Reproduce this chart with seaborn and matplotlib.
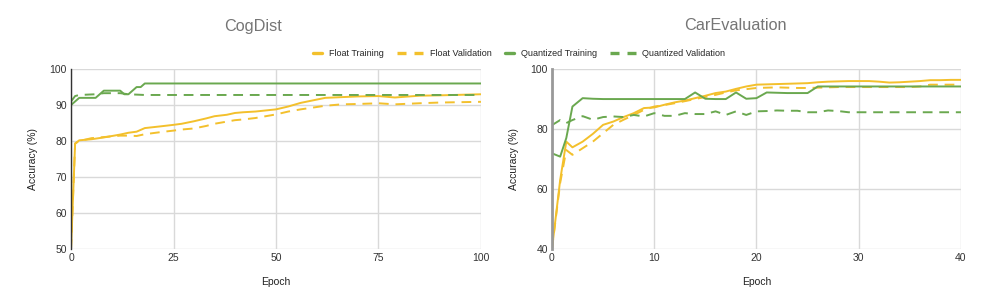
import pandas as pd
import seaborn as sns
import matplotlib
matplotlib.use("Agg")
import matplotlib.pyplot as plt
from matplotlib.lines import Line2D

# ---------------------------------------------- CogDist
cog_epoch = [0, 1, 2, 5, 8, 10, 12, 14, 16, 18, 22, 25, 27, 30, 33, 35, 38, 40, 42, 45,
             50, 53, 56, 59, 62, 66, 70, 75, 79, 85, 90, 100]
cog_float_train = [50, 79.3, 80.2, 80.5, 81.0, 81.4, 81.8, 82.3, 82.6, 83.6, 84.1, 84.5, 84.8, 85.5,
                   86.3, 86.9, 87.3, 87.8, 88.0, 88.2, 88.8, 89.6, 90.6, 91.3, 92.0, 92.2, 92.4,
                   92.5, 92.1, 92.6, 92.7, 93.0]
cog_float_val = [50, 79.3, 80.0, 80.8, 81.1, 81.3, 81.5, 81.5, 81.4, 81.9, 82.5, 82.9, 83.2, 83.5,
                 84.2, 84.8, 85.4, 85.8, 86.0, 86.4, 87.4, 88.2, 88.8, 89.3, 89.8, 90.2, 90.3,
                 90.5, 90.2, 90.5, 90.7, 90.9]

cog_q_epoch = [0, 2, 6, 8, 12, 13, 14, 16, 17, 18, 100]
cog_q_train = [90, 92, 92, 94, 94, 93, 93, 95, 95, 96, 96]
cog_qv_epoch = [0, 1, 2, 6, 8, 12, 14, 18, 100]
cog_q_val = [91, 92.5, 92.8, 93, 93.3, 93.3, 93, 92.8, 92.8]

# ---------------------------------------------- CarEvaluation
car_epoch = [0, 0.8, 1.4] + list(range(2, 41))
car_float_train = [40, 63.0, 75.8, 73.9, 75.8, 78.4, 81.4, 82.5, 84.0, 85.3, 87.0, 87.2, 88.1, 88.9,
                   89.5, 90.3, 91.1, 92.0, 92.5, 93.4, 94.2, 94.8, 94.9, 95.0, 95.1, 95.2, 95.3,
                   95.6, 95.8, 95.9, 96.0, 96.0, 96.0, 95.8, 95.5, 95.6, 95.8, 96.0, 96.3, 96.3,
                   96.4, 96.4]
car_float_val = [40, 62.0, 73.0, 71.4, 73.6, 75.8, 78.6, 81.4, 83.1, 84.7, 86.4, 87.5, 88.0, 88.6,
                 89.3, 90.0, 90.7, 91.4, 92.2, 92.9, 93.3, 93.7, 93.8, 93.9, 93.8, 93.7, 93.7,
                 93.8, 93.9, 94.0, 94.0, 94.0, 94.0, 94.0, 94.0, 94.0, 94.0, 94.2, 94.8, 94.8,
                 94.8, 94.8]
car_q_train = [71.9, 70.8, 77.0, 87.5, 90.3, 90.1, 90.0, 90.0, 90.0, 90.0, 90.0, 90.0, 90.0, 90.0,
               90.0, 92.2, 90.1, 90.0, 90.0, 92.2, 90.1, 90.3, 92.2, 92.1, 92.0, 92.0, 92.0,
               94.2, 94.2, 94.2, 94.2, 94.2, 94.2, 94.2, 94.2, 94.2, 94.2, 94.2, 94.2, 94.2,
               94.2, 94.2]
car_q_val = [81.3, 83.0, 82.0, 83.0, 84.3, 83.1, 84.0, 84.2, 84.0, 84.7, 84.2, 85.3, 84.4, 84.4,
             85.3, 85.0, 85.0, 85.9, 84.7, 85.9, 84.7, 85.9, 86.0, 86.2, 86.1, 86.1, 85.6,
             85.6, 86.2, 86.0, 85.6, 85.6, 85.6, 85.6, 85.6, 85.6, 85.6, 85.6, 85.6, 85.6,
             85.6, 85.6]

series_names = ["Float Training", "Float Validation", "Quantized Training", "Quantized Validation"]

YELLOW = "#F3C02C"
GREEN = "#6AA84F"
DASH = (5, 3.5)

sns.set_style("white")
plt.rcParams['font.family'] = ['Liberation Sans', 'DejaVu Sans']

fig = plt.figure(figsize=(9.96, 3.07), dpi=100)
ax1 = fig.add_axes([0.0713, 0.189, 0.4116, 0.586])
ax2 = fig.add_axes([0.5542, 0.189, 0.4106, 0.586])


def draw(ax, xs, ys, color, dashed):
	sns.lineplot(x=xs, y=ys, ax=ax, color=color, linewidth=1.4, legend=False)
	line = ax.get_lines()[-1]
	if dashed:
		line.set_dashes(DASH)


draw(ax1, cog_epoch, cog_float_train, YELLOW, False)
draw(ax1, cog_epoch, cog_float_val, YELLOW, True)
draw(ax1, cog_q_epoch, cog_q_train, GREEN, False)
draw(ax1, cog_qv_epoch, cog_q_val, GREEN, True)

draw(ax2, car_epoch, car_float_train, YELLOW, False)
draw(ax2, car_epoch, car_float_val, YELLOW, True)
draw(ax2, car_epoch, car_q_train, GREEN, False)
draw(ax2, car_epoch, car_q_val, GREEN, True)

ax1.set_xlim(0, 100)
ax1.set_ylim(50, 100)
ax1.set_xticks([0, 25, 50, 75, 100])
ax1.set_yticks([50, 60, 70, 80, 90, 100])
ax2.set_xlim(0, 40)
ax2.set_ylim(40, 100)
ax2.set_xticks([0, 10, 20, 30, 40])
ax2.set_yticks([40, 60, 80, 100])

for ax in (ax1, ax2):
	ax.grid(True, color="#d9d9d9", linewidth=1.0)
	ax.set_axisbelow(True)
	for side in ("top", "right", "bottom"):
		ax.spines[side].set_visible(False)
	ax.spines["left"].set_color("#333333")
	ax.spines["left"].set_linewidth(1.0)
	ax.tick_params(axis="both", length=0, labelsize=7.5, colors="#333333", pad=3)
	ax.set_xlabel("Epoch", fontsize=7.5, color="#222222", labelpad=10)
	ax.set_ylabel("Accuracy (%)", fontsize=7.5, color="#222222", labelpad=8)
ax2.spines["left"].set_color("#999999")
ax2.spines["left"].set_linewidth(2.0)

fig.text(253 / 996, 1 - 26 / 307, "CogDist", ha="center", va="center", fontsize=11.7, color="#757575")
fig.text(735 / 996, 1 - 26 / 307, "CarEvaluation", ha="center", va="center", fontsize=11.7, color="#757575")

# legend: one entry per legend so solid and dashed keys can have different lengths
legend_x = [313, 397, 505, 610]
legend_colors = [YELLOW, YELLOW, GREEN, GREEN]
legend_dashed = [False, True, False, True]
for name, x, col, dashed in zip(series_names, legend_x, legend_colors, legend_dashed):
	h = Line2D([], [], color=col, linewidth=2.4)
	if dashed:
		h.set_dashes((2.7, 2.4))
	fig.legend([h], [name], loc="center left", bbox_to_anchor=(x / 996, 1 - 54 / 307),
	           frameon=False, fontsize=6.5, borderpad=0, borderaxespad=0,
	           handlelength=2.85 if dashed else 1.0, handletextpad=0.75)

plt.savefig("out.png", dpi=100)
